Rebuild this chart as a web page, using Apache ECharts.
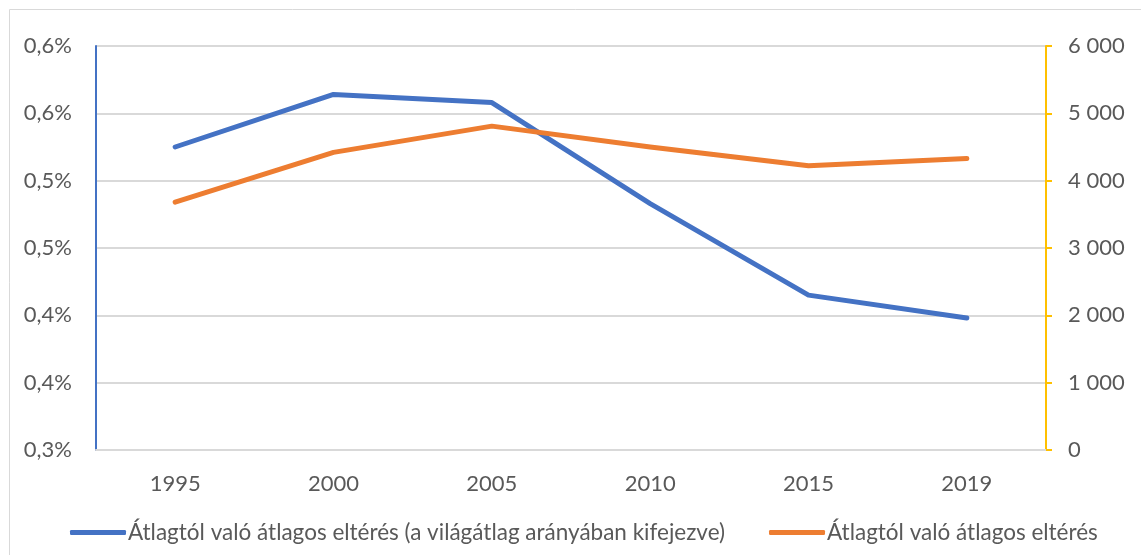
<!DOCTYPE html>
<html>
<head>
<meta charset="utf-8">
<script src="https://cdn.jsdelivr.net/npm/echarts@6/dist/echarts.min.js"></script>
<style>
  html, body { margin: 0; padding: 0; background: #fff; }
  #chart { width: 1141px; height: 555px; }
</style>
</head>
<body>
<div id="chart"></div>
<script>
const years = ['1995', '2000', '2005', '2010', '2015', '2019'];
const relDeviation = [0.525, 0.564, 0.558, 0.483, 0.415, 0.398];
const absDeviation = [3680, 4420, 4810, 4500, 4220, 4330];
const seriesNames = [
  'Átlagtól való átlagos eltérés (a világátlag arányában kifejezve)',
  'Átlagtól való átlagos eltérés'
];

const chart = echarts.init(document.getElementById('chart'));
const labelStyle = { color: '#595959', fontSize: 22, fontFamily: 'Lato' };

chart.setOption({
  animation: false,
  textStyle: { fontFamily: 'Lato' },
  graphic: [{
    type: 'rect',
    shape: { x: 9.5, y: 9.5, width: 1200, height: 600 },
    style: { fill: 'none', stroke: '#d9d9d9', lineWidth: 1 },
    silent: true
  }],
  grid: { left: 96, right: 95, top: 46, bottom: 105 },
  legend: {
    bottom: 11,
    left: 70,
    padding: 0,
    itemWidth: 56,
    itemHeight: 5,
    itemGap: 44,
    icon: 'roundRect',
    textStyle: { color: '#595959', fontSize: 22.5, fontFamily: 'Lato', padding: [0, 0, 0, -3] },
    data: seriesNames
  },
  xAxis: {
    type: 'category',
    data: years,
    axisLine: { lineStyle: { color: '#d9d9d9', width: 2 } },
    axisTick: { show: false },
    axisLabel: Object.assign({ margin: 23 }, labelStyle)
  },
  yAxis: [{
    type: 'value',
    min: 0.3,
    max: 0.6,
    interval: 0.05,
    axisLine: { show: true, lineStyle: { color: '#4472C4', width: 2 } },
    axisTick: { show: false },
    splitLine: { lineStyle: { color: '#d9d9d9', width: 2 } },
    axisLabel: Object.assign({
      margin: 24,
      formatter: v => (Math.round(v * 10 + 1e-6) / 10).toFixed(1).replace('.', ',') + '%'
    }, labelStyle)
  }, {
    type: 'value',
    min: 0,
    max: 6000,
    interval: 1000,
    position: 'right',
    axisLine: { show: true, lineStyle: { color: '#FFC000', width: 2 } },
    axisTick: { show: true, length: 6, lineStyle: { color: '#FFC000', width: 2 } },
    splitLine: { show: false },
    axisLabel: Object.assign({
      margin: 22,
      formatter: v => String(v).replace(/\B(?=(\d{3})+(?!\d))/g, ' ')
    }, labelStyle)
  }],
  series: [{
    name: seriesNames[0],
    type: 'line',
    yAxisIndex: 0,
    data: relDeviation,
    showSymbol: false,
    lineStyle: { color: '#4472C4', width: 5, cap: 'round', join: 'round' },
    itemStyle: { color: '#4472C4' }
  }, {
    name: seriesNames[1],
    type: 'line',
    yAxisIndex: 1,
    data: absDeviation,
    showSymbol: false,
    lineStyle: { color: '#ED7D31', width: 5, cap: 'round', join: 'round' },
    itemStyle: { color: '#ED7D31' }
  }]
});
</script>
</body>
</html>
